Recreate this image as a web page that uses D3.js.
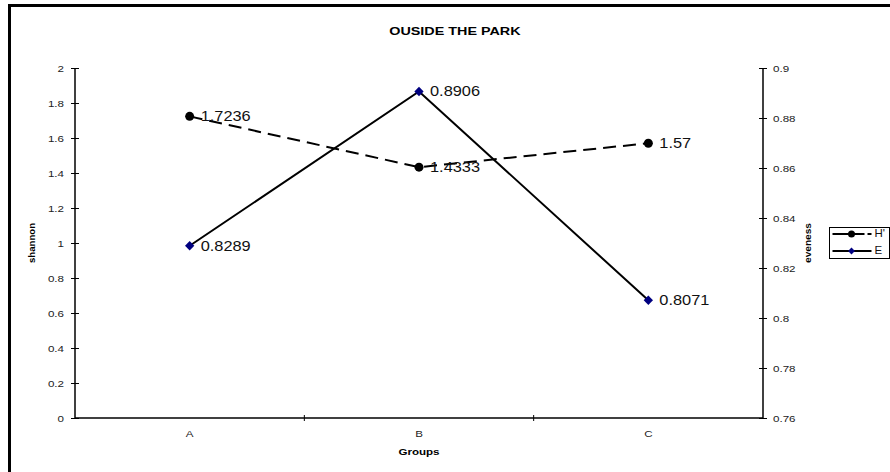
<!DOCTYPE html>
<html>
<head>
<meta charset="utf-8">
<script src="https://cdn.jsdelivr.net/npm/d3@7"></script>
<style>
  body { margin: 0; background: #fff; }
  svg { display: block; font-family: "Liberation Sans", Arial, sans-serif; }
</style>
</head>
<body>
<script>
var groups = ["A", "B", "C"];
var shannon = [1.7236, 1.4333, 1.57];
var evenness = [0.8289, 0.8906, 0.8071];
var leftTicks = [0, 0.2, 0.4, 0.6, 0.8, 1, 1.2, 1.4, 1.6, 1.8, 2];
var rightTicks = [0.76, 0.78, 0.8, 0.82, 0.84, 0.86, 0.88, 0.9];

var width = 890, height = 472;
var margin = {left: 75, right: 763, top: 68, bottom: 418};

var svg = d3.select("body").append("svg")
    .attr("width", width)
    .attr("height", height);

// the source picture is a little wider than tall, so text gets stretched sideways
function stretch(sel, k) {
    sel.each(function() {
        var t = d3.select(this);
        var a = t.attr("text-anchor") || getComputedStyle(this).textAnchor || "start";
        var o = a === "end" ? "right" : a === "middle" ? "center" : "left";
        t.style("transform-box", "fill-box")
         .style("transform-origin", o + " center")
         .style("transform", "scaleX(" + (k || 1.2) + ")");
    });
}

// outer frame (right/bottom edges fall outside the window)
svg.append("rect")
    .attr("x", 9.5).attr("y", 5.5)
    .attr("width", 1000).attr("height", 600)
    .attr("fill", "none")
    .attr("stroke", "#000")
    .attr("stroke-width", 3);

var x = d3.scaleBand().domain(groups).range([margin.left, margin.right]);
var yL = d3.scaleLinear().domain([0, 2]).range([margin.bottom, margin.top]);
var yR = d3.scaleLinear().domain([0.76, 0.9]).range([margin.bottom, margin.top]);

var fmt = function(d) { return String(+d.toFixed(2)); };

// left axis
var gl = svg.append("g").attr("transform", "translate(" + margin.left + ",0)")
    .call(d3.axisLeft(yL).tickValues(leftTicks).tickFormat(fmt).tickSize(4).tickPadding(7));
gl.selectAll(".tick line").attr("x2", -4).attr("x1", 4);

// right axis
var gr = svg.append("g").attr("transform", "translate(" + margin.right + ",0)")
    .call(d3.axisRight(yR).tickValues(rightTicks).tickFormat(fmt).tickSize(4).tickPadding(6));
gr.selectAll(".tick line").attr("x1", -4).attr("x2", 4);

// bottom axis, ticks between categories
var gb = svg.append("g").attr("transform", "translate(0," + margin.bottom + ")")
    .call(d3.axisBottom(x).tickSize(0).tickPadding(12));
var edges = [1, 2].map(function(i) { return margin.left + i * x.step(); });
gb.selectAll(".sep").data(edges).enter().append("line")
    .attr("x1", function(d) { return d; }).attr("x2", function(d) { return d; })
    .attr("y1", -3).attr("y2", 3)
    .attr("stroke", "#000");

[gl, gr, gb].forEach(function(g) {
    g.selectAll(".domain").attr("stroke", "#000").attr("stroke-width", 1.5);
    g.selectAll(".tick line").attr("stroke", "#000");
    g.selectAll("text").attr("font-family", "Liberation Sans, Arial, sans-serif")
        .attr("font-size", 9.5).attr("fill", "#222");
    stretch(g.selectAll("text"), 1.22);
});
gl.select(".domain").attr("d", "M0," + margin.top + "V" + margin.bottom);
gr.select(".domain").attr("d", "M0," + margin.top + "V" + margin.bottom);
gb.select(".domain").attr("d", "M" + margin.left + ",0H" + margin.right);

// titles
var title = svg.append("text").attr("x", 455).attr("y", 35)
    .attr("text-anchor", "middle").attr("font-weight", "bold").attr("font-size", 11.5)
    .text("OUSIDE THE PARK");
stretch(title, 1.25);
var xt = svg.append("text").attr("x", 419).attr("y", 455)
    .attr("text-anchor", "middle").attr("font-weight", "bold").attr("font-size", 9.5)
    .text("Groups");
stretch(xt, 1.22);
svg.append("text").attr("transform", "translate(35,243) rotate(-90)")
    .attr("text-anchor", "middle").attr("font-weight", "bold").attr("font-size", 9.5)
    .attr("textLength", 40).attr("lengthAdjust", "spacingAndGlyphs")
    .text("shannon");
svg.append("text").attr("transform", "translate(811,243) rotate(-90)")
    .attr("text-anchor", "middle").attr("font-weight", "bold").attr("font-size", 9.5)
    .attr("textLength", 40).attr("lengthAdjust", "spacingAndGlyphs")
    .text("eveness");

var cx = function(d, i) { return x(groups[i]) + x.bandwidth() / 2; };

// H' series (dashed)
svg.append("path")
    .datum(shannon)
    .attr("d", d3.line().x(cx).y(function(d) { return yL(d); }))
    .attr("fill", "none").attr("stroke", "#000")
    .attr("stroke-width", 2).attr("stroke-dasharray", "13,7");

// E series (solid)
svg.append("path")
    .datum(evenness)
    .attr("d", d3.line().x(cx).y(function(d) { return yR(d); }))
    .attr("fill", "none").attr("stroke", "#000").attr("stroke-width", 2);

svg.selectAll(".hdot").data(shannon).enter().append("circle")
    .attr("cx", cx).attr("cy", function(d) { return yL(d); })
    .attr("r", 4.5).attr("fill", "#000");

var diamond = d3.symbol().type(d3.symbolDiamond2).size(55);
svg.selectAll(".edot").data(evenness).enter().append("path")
    .attr("d", diamond)
    .attr("transform", function(d, i) { return "translate(" + cx(d, i) + "," + yR(d) + ")"; })
    .attr("fill", "#000080");

// data labels
var hl = svg.selectAll(".hlab").data(shannon).enter().append("text")
    .attr("x", function(d, i) { return cx(d, i) + 11; })
    .attr("y", function(d) { return yL(d) + 5; })
    .attr("font-size", 14).attr("fill", "#111")
    .text(function(d) { return d; });
stretch(hl, 1.17);
var el = svg.selectAll(".elab").data(evenness).enter().append("text")
    .attr("x", function(d, i) { return cx(d, i) + 11; })
    .attr("y", function(d) { return yR(d) + 5; })
    .attr("font-size", 14).attr("fill", "#111")
    .text(function(d) { return d; });
stretch(el, 1.17);

// legend
var lg = svg.append("g").attr("transform", "translate(829.5,227.5)");
lg.append("rect").attr("width", 60).attr("height", 31)
    .attr("fill", "#fff").attr("stroke", "#000").attr("stroke-width", 1);
var items = [
    {name: "H'", dash: "32,3", mark: "circle"},
    {name: "E", dash: null, mark: "diamond"}
];
items.forEach(function(it, i) {
    var yy = 6.5 + i * 17;
    lg.append("line").attr("x1", 3).attr("x2", 42).attr("y1", yy).attr("y2", yy)
        .attr("stroke", "#000").attr("stroke-width", 2)
        .attr("stroke-dasharray", it.dash);
    if (it.mark === "circle") {
        lg.append("circle").attr("cx", 22).attr("cy", yy).attr("r", 3.5).attr("fill", "#000");
    } else {
        lg.append("path").attr("d", d3.symbol().type(d3.symbolDiamond2).size(30))
            .attr("transform", "translate(22," + yy + ")").attr("fill", "#000080");
    }
    var lt = lg.append("text").attr("x", 45).attr("y", yy + 3.5)
        .attr("font-size", 10).attr("fill", "#111").text(it.name);
    stretch(lt, 1.15);
});
</script>
</body>
</html>
